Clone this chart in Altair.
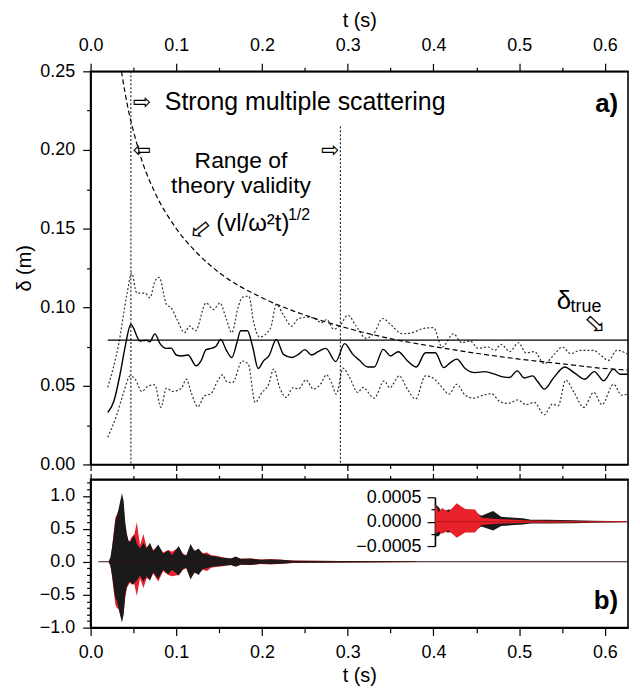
import altair as alt
import pandas as pd

FONT = "Liberation Sans"
ARROW_FONT = "DejaVu Sans"

# ---------------- panel a data ----------------
mean_t = [0.020, 0.027, 0.0346, 0.040, 0.047, 0.0577, 0.0654, 0.069, 0.075, 0.0808, 0.0885, 0.094, 0.100, 0.106,
          0.1137, 0.123, 0.129, 0.1347, 0.142, 0.146, 0.152, 0.158, 0.1647, 0.171, 0.175, 0.183, 0.189, 0.1955,
          0.202, 0.208, 0.2167, 0.225, 0.2348, 0.2425, 0.250, 0.2578, 0.2655, 0.2744, 0.286, 0.2964, 0.306,
          0.3137, 0.3233, 0.331, 0.3414, 0.350, 0.359, 0.3695, 0.380, 0.3907, 0.4022, 0.412, 0.418, 0.4273,
          0.437, 0.4484, 0.460, 0.4715, 0.481, 0.4889, 0.4977, 0.506, 0.5158, 0.5216, 0.5293, 0.541, 0.5531,
          0.564, 0.5762, 0.5877, 0.5985, 0.610, 0.6177, 0.627]
mean_d = [0.033, 0.040, 0.058, 0.074, 0.089, 0.0785, 0.079, 0.078, 0.083, 0.077, 0.0738, 0.074, 0.0696, 0.069,
          0.0696, 0.0627, 0.066, 0.073, 0.074, 0.075, 0.0795, 0.073, 0.068, 0.078, 0.085, 0.085, 0.075, 0.061,
          0.066, 0.069, 0.0795, 0.070, 0.068, 0.070, 0.073, 0.0696, 0.0717, 0.0738, 0.0654, 0.0768, 0.070,
          0.0662, 0.062, 0.062, 0.0732, 0.069, 0.0717, 0.066, 0.062, 0.071, 0.071, 0.0616, 0.064, 0.067,
          0.061, 0.0584, 0.059, 0.0574, 0.0557, 0.0553, 0.0595, 0.055, 0.0563, 0.0527, 0.0479, 0.0557, 0.062,
          0.0584, 0.0542, 0.059, 0.0532, 0.0606, 0.0574, 0.0574]

upper_t = [0.020, 0.0327, 0.0423, 0.048, 0.0539, 0.0635, 0.0693, 0.075, 0.080, 0.0885, 0.094, 0.1008, 0.1097,
           0.1154, 0.1224, 0.1347, 0.1432, 0.151, 0.158, 0.1647, 0.1724, 0.177, 0.1847, 0.190, 0.197, 0.2098,
           0.2167, 0.225, 0.2348, 0.2425, 0.254, 0.2636, 0.269, 0.2755, 0.2837, 0.2914, 0.300, 0.3098, 0.3214,
           0.331, 0.3406, 0.350, 0.3637, 0.375, 0.3887, 0.400, 0.410, 0.4234, 0.433, 0.4426, 0.4522, 0.4638,
           0.4715, 0.479, 0.4889, 0.4992, 0.508, 0.5177, 0.5293, 0.541, 0.5504, 0.560, 0.5716, 0.587, 0.594,
           0.6043, 0.614, 0.627]
upper_d = [0.049, 0.0764, 0.108, 0.1217, 0.109, 0.109, 0.106, 0.1165, 0.119, 0.1017, 0.0996, 0.0922, 0.0838,
           0.088, 0.085, 0.1027, 0.0985, 0.1027, 0.093, 0.0838, 0.1005, 0.1063, 0.107, 0.091, 0.081, 0.0865,
           0.1017, 0.095, 0.088, 0.0928, 0.0937, 0.0922, 0.090, 0.0922, 0.0859, 0.0886, 0.0949, 0.088, 0.0802,
           0.0838, 0.0928, 0.089, 0.0831, 0.0838, 0.0865, 0.087, 0.0747, 0.0831, 0.0774, 0.0785, 0.0738, 0.0747,
           0.0726, 0.0764, 0.0717, 0.0774, 0.071, 0.0717, 0.0641, 0.070, 0.0747, 0.0705, 0.0726, 0.0726, 0.070,
           0.0662, 0.0726, 0.070]

lower_t = [0.020, 0.0308, 0.0385, 0.0462, 0.052, 0.0597, 0.0674, 0.075, 0.082, 0.0885, 0.0955, 0.106, 0.1116,
           0.1174, 0.1251, 0.1328, 0.1405, 0.1482, 0.154, 0.1586, 0.1655, 0.177, 0.184, 0.192, 0.1997, 0.2078,
           0.2136, 0.2205, 0.2282, 0.2359, 0.2425, 0.2513, 0.2598, 0.2682, 0.2752, 0.281, 0.2867, 0.2945, 0.302,
           0.3118, 0.3175, 0.331, 0.3425, 0.349, 0.360, 0.3695, 0.3791, 0.3907, 0.400, 0.410, 0.418, 0.4273,
           0.437, 0.4465, 0.458, 0.4677, 0.4773, 0.487, 0.4985, 0.508, 0.5177, 0.5293, 0.539, 0.5455, 0.5543,
           0.564, 0.5754, 0.587, 0.5966, 0.610, 0.6197, 0.627]
lower_d = [0.0173, 0.032, 0.0456, 0.0563, 0.0542, 0.0464, 0.050, 0.0506, 0.0363, 0.0485, 0.0464, 0.0485, 0.0542,
           0.0456, 0.0367, 0.0436, 0.045, 0.0532, 0.057, 0.0527, 0.052, 0.0658, 0.0637, 0.0394, 0.0456, 0.051,
           0.0606, 0.049, 0.0426, 0.0487, 0.048, 0.0538, 0.048, 0.051, 0.057, 0.052, 0.0447, 0.0612, 0.0555,
           0.0458, 0.049, 0.0422, 0.0532, 0.0487, 0.0563, 0.048, 0.0416, 0.0563, 0.0548, 0.049, 0.0447, 0.051,
           0.044, 0.0422, 0.044, 0.045, 0.040, 0.0388, 0.041, 0.038, 0.0395, 0.0316, 0.0384, 0.0373, 0.0536,
           0.0458, 0.0363, 0.0458, 0.038, 0.051, 0.044, 0.045]

theory_t = [0.036, 0.040, 0.045, 0.050, 0.060, 0.075, 0.100, 0.125, 0.150, 0.200, 0.250, 0.300, 0.350, 0.400,
            0.450, 0.500, 0.550, 0.600, 0.627]
theory_d = [0.250, 0.237, 0.223, 0.212, 0.193, 0.173, 0.150, 0.134, 0.122, 0.106, 0.095, 0.0866, 0.080, 0.075,
            0.0707, 0.067, 0.064, 0.061, 0.060]

delta_true = 0.079
true_t = [0.020, 0.627]
vline_t = [0.047, 0.2914]
vline_top = [0.25, 0.215]

# ---------------- panel b data (amplitude envelopes) ----------------
b_t = [0.0212, 0.0231, 0.0250, 0.0270, 0.0289, 0.0308, 0.0327, 0.0346, 0.0366, 0.0385, 0.0404, 0.0423, 0.0443,
       0.0462, 0.0481, 0.0512, 0.0539, 0.0577, 0.0616, 0.0654, 0.0693, 0.0731, 0.0789, 0.0847, 0.0905, 0.0951,
       0.1028, 0.1078, 0.1116, 0.1166, 0.1212, 0.1259, 0.1309, 0.1359, 0.1405, 0.1463, 0.1540, 0.1636, 0.1694,
       0.1751, 0.1867, 0.1982, 0.2098, 0.2232, 0.2367, 0.2521, 0.2906, 0.33, 0.38]
black_hi = [0.01, 0.06, 0.22, 0.42, 0.62, 0.70, 0.80, 0.92, 1.04, 0.92, 0.60, 0.42, 0.32, 0.30, 0.35, 0.40, 0.27,
            0.20, 0.29, 0.20, 0.29, 0.16, 0.26, 0.12, 0.17, 0.10, 0.24, 0.11, 0.09, 0.27, 0.16, 0.20, 0.12, 0.11,
            0.09, 0.08, 0.06, 0.05, 0.08, 0.04, 0.05, 0.03, 0.035, 0.03, 0.015, 0.015, 0.01, 0.008, 0.005]
black_lo = [-0.01, -0.06, -0.20, -0.40, -0.55, -0.60, -0.70, -0.82, -0.92, -0.80, -0.50, -0.38, -0.32, -0.30,
            -0.35, -0.32, -0.28, -0.21, -0.30, -0.22, -0.29, -0.16, -0.26, -0.12, -0.19, -0.12, -0.21, -0.11,
            -0.09, -0.27, -0.16, -0.20, -0.11, -0.10, -0.08, -0.07, -0.06, -0.05, -0.075, -0.04, -0.05, -0.03,
            -0.035, -0.03, -0.015, -0.015, -0.01, -0.008, -0.005]
red_hi = [0.01, 0.05, 0.20, 0.45, 0.67, 0.72, 0.78, 0.88, 0.95, 0.85, 0.55, 0.40, 0.30, 0.33, 0.38, 0.42, 0.60,
          0.25, 0.42, 0.22, 0.27, 0.18, 0.24, 0.14, 0.18, 0.15, 0.22, 0.12, 0.10, 0.24, 0.17, 0.18, 0.13, 0.14,
          0.10, 0.09, 0.07, 0.05, 0.07, 0.05, 0.05, 0.035, 0.04, 0.03, 0.02, 0.015, 0.01, 0.008, 0.005]
red_lo = [-0.01, -0.05, -0.22, -0.45, -0.65, -0.70, -0.72, -0.80, -0.88, -0.78, -0.55, -0.40, -0.35, -0.32,
          -0.33, -0.35, -0.52, -0.25, -0.40, -0.25, -0.27, -0.18, -0.30, -0.14, -0.20, -0.22, -0.20, -0.12,
          -0.10, -0.25, -0.17, -0.18, -0.12, -0.14, -0.09, -0.08, -0.07, -0.05, -0.07, -0.05, -0.05, -0.035,
          -0.04, -0.03, -0.02, -0.015, -0.01, -0.008, -0.005]
baseline_t = [0.009, 0.627]

# inset (late coda, amplified)
in_t = [0.4022, 0.406, 0.410, 0.4176, 0.4272, 0.437, 0.4484, 0.456, 0.4696, 0.479, 0.4945, 0.504, 0.5138, 0.533,
        0.5638, 0.587, 0.627]
in_black_hi = [0.00035, 0.0003, 0.0002, 0.00025, 0.00022, 0.0002, 0.0002, 0.00012, 0.00022, 0.0001, 0.00008,
               0.00007, 0.00004, 0.00004, 0.00003, 0.00002, 0.00001]
in_black_lo = [-0.0003, -0.0003, -0.0002, -0.00022, -0.0002, -0.00018, -0.00018, -0.0001, -0.00018, -0.00009,
               -0.00007, -0.00006, -0.00004, -0.00004, -0.00003, -0.00002, -0.00001]
in_red_hi = [0.00035, 0.0002, 0.00028, 0.0002, 0.00038, 0.00026, 0.00025, 0.00008, 0.00006, 0.00005, 0.00004,
             0.00003, 0.000025, 0.00002, 0.000015, 0.00001, 0.000008]
in_red_lo = [-0.00025, -0.0002, -0.00025, -0.00018, -0.00033, -0.00022, -0.00022, -0.00007, -0.00005, -0.00004,
             -0.00003, -0.000025, -0.00002, -0.00002, -0.000015, -0.00001, -0.000008]
inset_base_t = [0.4022, 0.627]

# ---------------- ticks ----------------
X_MAJOR = [0.0, 0.1, 0.2, 0.3, 0.4, 0.5, 0.6]
X_MINOR = [0.05, 0.15, 0.25, 0.35, 0.45, 0.55]
YA_MAJOR = [0.0, 0.05, 0.10, 0.15, 0.20, 0.25]
YA_MINOR = [0.025, 0.075, 0.125, 0.175, 0.225]
YB_MAJOR = [-1.0, -0.5, 0.0, 0.5, 1.0]
YB_MINOR = [-0.9, -0.8, -0.7, -0.6, -0.4, -0.3, -0.2, -0.1, 0.1, 0.2, 0.3, 0.4, 0.6, 0.7, 0.8, 0.9, 1.1, 1.2]
YI_MAJOR = [-0.0005, 0.0, 0.0005]
YI_MINOR = [-0.00025, 0.00025]

W = 540
HA = 395
HB = 149
X_MAX = 0.627
INSET_T0 = 0.402

xs = alt.Scale(domain=[0.0, X_MAX], nice=False, zero=False)
ysa = alt.Scale(domain=[0.0, 0.25], nice=False, zero=False)
ysb = alt.Scale(domain=[-1.0, 1.25], nice=False, zero=False)
ysi = alt.Scale(domain=[-0.0005, 0.0005], nice=False, zero=False, range=[67, 18])
INSET_OFFSET = -round(W * INSET_T0 / X_MAX)


def axis(orient, values, labels=False, title=None, fmt=None, size=4, domain=False, offset=None,
         label_pad=None, title_xy=None, title_angle=0):
    kw = dict(orient=orient, values=values, labels=labels, tickSize=size, domain=domain, grid=False,
              ticks=True, labelOverlap=False, labelFlush=False, title=title)
    if fmt:
        kw["format"] = fmt
    if offset is not None:
        kw["offset"] = offset
    if label_pad is not None:
        kw["labelPadding"] = label_pad
    if title_xy is not None:
        kw["titleX"] = title_xy[0]
        kw["titleY"] = title_xy[1]
        kw["titleAlign"] = "center"
        kw["titleBaseline"] = "middle"
        kw["titleAngle"] = title_angle
    return alt.Axis(**kw)


def text_layer(t, v, txt, size, yscale, align="left", weight="normal", font=FONT, angle=0, dx=0, dy=0,
               line_height=None):
    df = pd.DataFrame({"t": [t], "v": [v], "s": [txt]})
    kw = dict(fontSize=size, align=align, baseline="middle", font=font, fontWeight=weight, color="black")
    if angle:
        kw["angle"] = angle
    if dx:
        kw["dx"] = dx
    if dy:
        kw["dy"] = dy
    if line_height:
        kw["lineBreak"] = "\n"
        kw["lineHeight"] = line_height
    return alt.Chart(df).mark_text(**kw).encode(
        x=alt.X("t:Q", scale=xs, axis=None),
        y=alt.Y("v:Q", scale=yscale, axis=None),
        text="s:N",
    )


# ---------------- panel a ----------------
df_mean = pd.DataFrame({"t": mean_t, "d": mean_d})
df_up = pd.DataFrame({"t": upper_t, "d": upper_d})
df_lo = pd.DataFrame({"t": lower_t, "d": lower_d})
df_th = pd.DataFrame({"t": theory_t, "d": theory_d})
df_true = pd.DataFrame({"t0": [true_t[0]], "t1": [true_t[1]], "d": [delta_true]})
df_vl = pd.DataFrame({"t": vline_t, "top": vline_top, "bot": [0.0, 0.0]})

mean_line = alt.Chart(df_mean).mark_line(color="black", strokeWidth=1.4, interpolate="monotone").encode(
    x=alt.X("t:Q", scale=xs, axis=axis("top", X_MAJOR, labels=True, title="t (s)", fmt=".1f", size=8,
                                       domain=True, label_pad=9, title_xy=(W / 2, -51))),
    y=alt.Y("d:Q", scale=ysa, axis=axis("left", YA_MAJOR, labels=True, title="δ (m)", fmt=".2f", size=8,
                                        domain=True, label_pad=8, title_xy=(-66, HA / 2), title_angle=270)),
)
up_line = alt.Chart(df_up).mark_line(color="#333333", strokeWidth=1.2, strokeDash=[2, 2],
                                     interpolate="monotone").encode(
    x=alt.X("t:Q", scale=xs, axis=axis("top", X_MINOR, size=4)),
    y=alt.Y("d:Q", scale=ysa, axis=axis("left", YA_MINOR, size=4)),
)
lo_line = alt.Chart(df_lo).mark_line(color="#333333", strokeWidth=1.2, strokeDash=[2, 2],
                                     interpolate="monotone").encode(
    x=alt.X("t:Q", scale=xs, axis=axis("bottom", X_MAJOR, size=6, domain=True)),
    y=alt.Y("d:Q", scale=ysa, axis=None),
)
th_line = alt.Chart(df_th).mark_line(color="black", strokeWidth=1.2, strokeDash=[5, 3],
                                     interpolate="monotone").encode(
    x=alt.X("t:Q", scale=xs, axis=axis("bottom", X_MINOR, size=4)),
    y=alt.Y("d:Q", scale=ysa, axis=None),
)
true_rule = alt.Chart(df_true).mark_rule(color="black", strokeWidth=1.2).encode(
    x=alt.X("t0:Q", scale=xs, axis=None), x2="t1:Q",
    y=alt.Y("d:Q", scale=ysa, axis=None),
)
v_rules = alt.Chart(df_vl).mark_rule(color="black", strokeWidth=1, strokeDash=[2, 2]).encode(
    x=alt.X("t:Q", scale=xs, axis=None),
    y=alt.Y("top:Q", scale=ysa, axis=None), y2="bot:Q",
)

ann_a = [
    text_layer(0.0866, 0.2304, "Strong multiple scattering", 25, ysa),
    text_layer(0.060, 0.2304, "⇨", 22, ysa, align="center", font=ARROW_FONT),
    text_layer(0.1755, 0.1930, "Range of\ntheory validity", 23, ysa, align="center", line_height=25),
    text_layer(0.060, 0.2000, "⇦", 22, ysa, align="center", font=ARROW_FONT),
    text_layer(0.2794, 0.2000, "⇨", 22, ysa, align="center", font=ARROW_FONT),
    text_layer(0.1467, 0.1532, "(vl/ω²t)", 24, ysa),
    text_layer(0.1467, 0.1532, "1/2", 16, ysa, dx=72, dy=-9),
    text_layer(0.1282, 0.1494, "⇦", 26, ysa, align="center", font=ARROW_FONT, angle=321),
    text_layer(0.5439, 0.1038, "δ", 26, ysa),
    text_layer(0.5600, 0.1000, "true", 18, ysa),
    text_layer(0.589, 0.0889, "⇨", 26, ysa, align="center", font=ARROW_FONT, angle=43),
    text_layer(0.6155, 0.2290, "a)", 26, ysa, align="right", weight="bold"),
]

panel_a = alt.layer(mean_line, up_line, lo_line, th_line, true_rule, v_rules, *ann_a).resolve_axis(
    x="independent", y="independent").properties(width=W, height=HA)

# ---------------- panel b ----------------
df_red = pd.DataFrame({"t": b_t, "lo": red_lo, "hi": red_hi})
df_black = pd.DataFrame({"t": b_t, "lo": black_lo, "hi": black_hi})
df_base = pd.DataFrame({"t0": [baseline_t[0]], "t1": [baseline_t[1]], "v": [0.0]})
df_in_black = pd.DataFrame({"t": in_t, "lo": in_black_lo, "hi": in_black_hi})
df_in_red = pd.DataFrame({"t": in_t, "lo": in_red_lo, "hi": in_red_hi})
df_in_base = pd.DataFrame({"t0": [inset_base_t[0]], "t1": [inset_base_t[1]], "v": [0.0]})

red_area = alt.Chart(df_red).mark_area(color="#e8212b", opacity=1, interpolate="linear").encode(
    x=alt.X("t:Q", scale=xs, axis=axis("bottom", X_MAJOR, labels=True, title="t (s)", fmt=".1f", size=8,
                                       domain=True, label_pad=8, title_xy=(W / 2, 48))),
    y=alt.Y("lo:Q", scale=ysb, axis=axis("left", YB_MAJOR, labels=True, fmt=".1f", size=8, domain=True,
                                         label_pad=8)),
    y2="hi:Q",
)
black_area = alt.Chart(df_black).mark_area(color="#1a1a1a", opacity=1, interpolate="linear").encode(
    x=alt.X("t:Q", scale=xs, axis=axis("bottom", X_MINOR, size=5)),
    y=alt.Y("lo:Q", scale=ysb, axis=axis("left", YB_MINOR, size=4)),
    y2="hi:Q",
)
base_rule = alt.Chart(df_base).mark_rule(color="#3a1010", strokeWidth=1).encode(
    x=alt.X("t0:Q", scale=xs, axis=axis("top", X_MAJOR, size=6, domain=True)), x2="t1:Q",
    y=alt.Y("v:Q", scale=ysb, axis=None),
)
in_black = alt.Chart(df_in_black).mark_area(color="#1a1a1a", opacity=1, interpolate="linear").encode(
    x=alt.X("t:Q", scale=xs, axis=axis("top", X_MINOR, size=4)),
    y=alt.Y("lo:Q", scale=ysi, axis=axis("left", YI_MAJOR, labels=True, fmt=".4f", size=8, domain=True,
                                         offset=INSET_OFFSET, label_pad=6)),
    y2="hi:Q",
)
in_red = alt.Chart(df_in_red).mark_area(color="#e8212b", opacity=1, interpolate="linear").encode(
    x=alt.X("t:Q", scale=xs, axis=None),
    y=alt.Y("lo:Q", scale=ysi, axis=axis("left", YI_MINOR, size=4, offset=INSET_OFFSET)),
    y2="hi:Q",
)
in_base = alt.Chart(df_in_base).mark_rule(color="#b01818", strokeWidth=1).encode(
    x=alt.X("t0:Q", scale=xs, axis=None), x2="t1:Q",
    y=alt.Y("v:Q", scale=ysi, axis=None),
)
b_label = text_layer(0.6155, -0.59, "b)", 26, ysb, align="right", weight="bold")

panel_b = alt.layer(red_area, black_area, base_rule, in_black, in_red, in_base, b_label).resolve_scale(
    y="independent").resolve_axis(x="independent", y="independent").properties(width=W, height=HB)

chart = alt.vconcat(panel_a, panel_b, spacing=15, bounds="flush").properties(
    padding={"left": 6, "top": 0, "right": 0, "bottom": 0},
).configure_axis(
    labelFont=FONT, titleFont=FONT, labelFontSize=18, titleFontSize=20, titleFontWeight="normal",
    labelColor="black", titleColor="black", domainColor="black", tickColor="black",
    domainWidth=1.6, tickWidth=1.2,
).configure_view(stroke="black", strokeWidth=1.6)

chart.save("out.html", embed_options={"renderer": "svg", "actions": False})
